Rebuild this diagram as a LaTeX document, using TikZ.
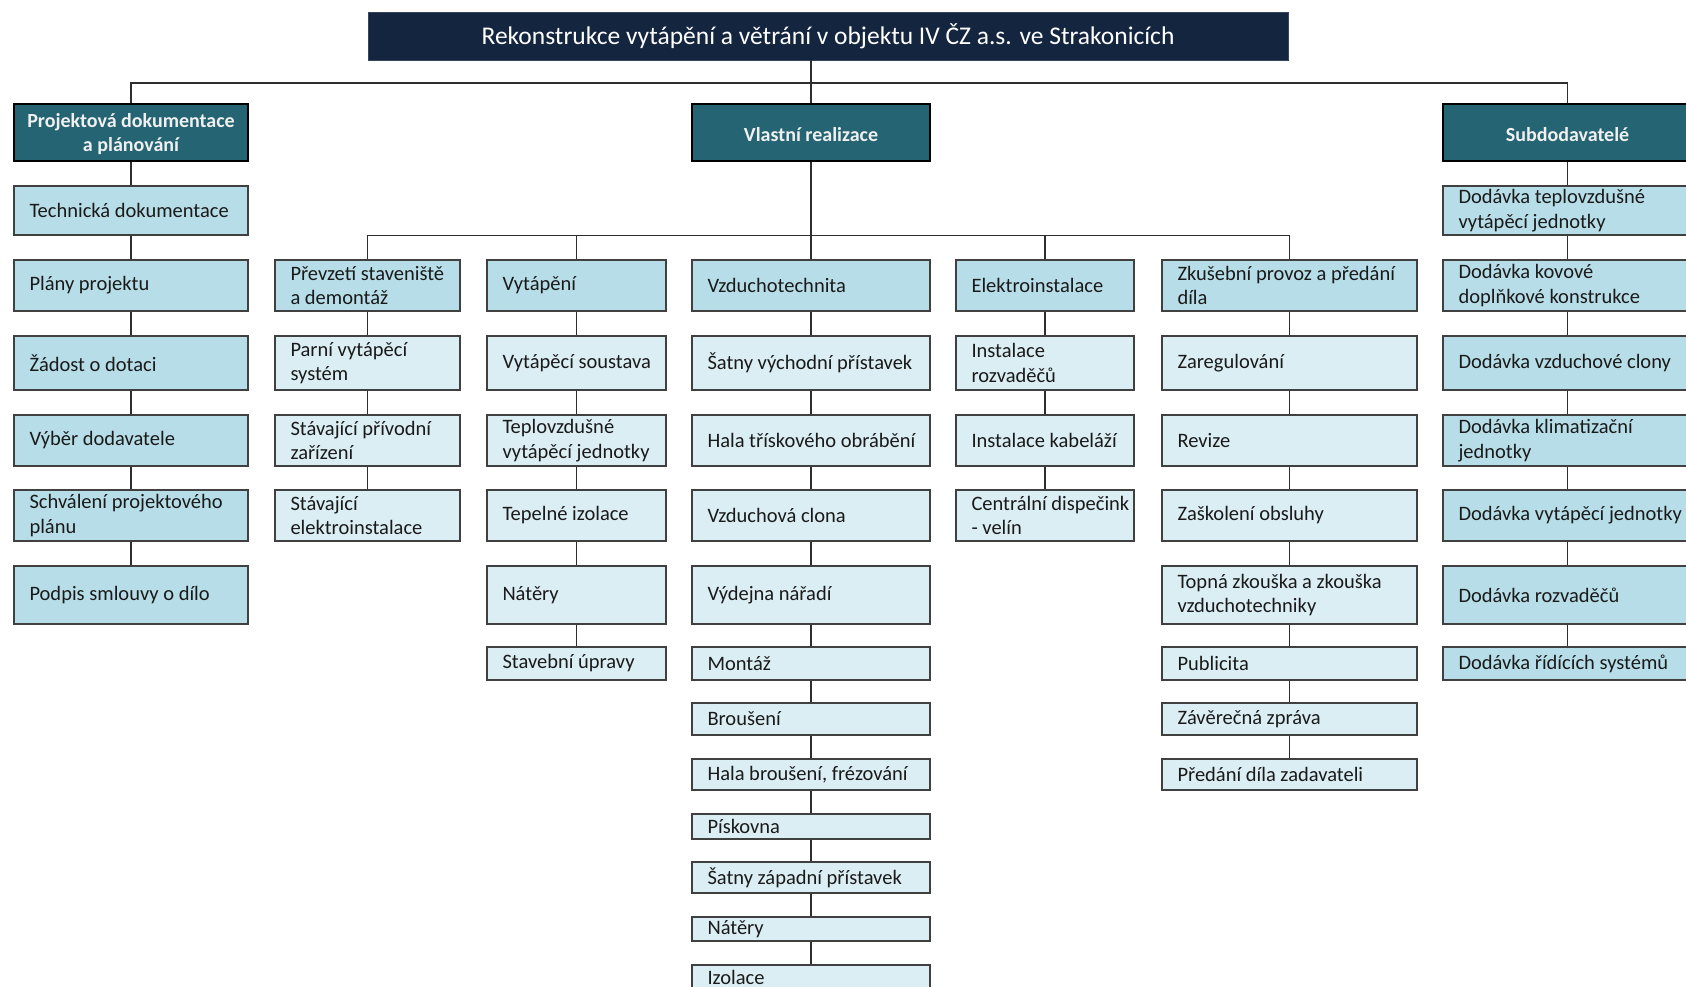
\documentclass[tikz,border=0pt]{standalone}
\usepackage{fontspec}
\setmainfont{Carlito}
\definecolor{navy}{HTML}{14253F}
\definecolor{tealbox}{HTML}{256472}
\definecolor{midblue}{HTML}{B7DEE8}
\definecolor{lightblue}{HTML}{DBEEF3}
\definecolor{edgegray}{HTML}{404040}
\definecolor{ink}{HTML}{1A1A1A}
\tikzset{
  bx/.style={draw=edgegray, line width=1.4pt, inner sep=0pt},
  mid/.style={bx, fill=midblue},
  lgt/.style={bx, fill=lightblue},
  lvl/.style={draw=black, line width=2.8pt, fill=tealbox, inner sep=0pt},
  lvltxt/.style={inner sep=0pt, align=center, text=white!94!black,
    font=\fontsize{20}{24}\selectfont\bfseries},
  ttl/.style={fill=navy, draw=navy!85!white, line width=0.8pt, text=white,
    font=\fontsize{25.5}{30}\selectfont, inner sep=0pt},
  txt/.style={anchor=west, inner sep=0pt, align=left, text=ink,
    font=\fontsize{20.5}{24.5}\selectfont},
  con/.style={draw=black!82, line width=1.5pt},
}
% #1 name, #2 style, #3 left, #4 top, #5 right, #6 bottom, #7 text
\newcommand\mybox[7]{%
  \node[#2, minimum width=#5-#3, minimum height=#6-#4] (#1) at ({(#3+#5)/2},{-(#4+#6)/2}) {};
  \node[txt] (#1-t) at ([xshift=16pt]#1.west) {#7};
}
% #1 name, #2 left, #3 right, #4 text
\newcommand\lvlbox[4]{%
  \node[lvl, minimum width=#3-#2, minimum height=57] (#1) at ({(#2+#3)/2},-132.5) {};
  \node[lvltxt] (#1-t) at ([yshift=-2pt]#1.center) {#4};
}
\begin{document}
\begin{tikzpicture}[x=1pt,y=1pt]
\useasboundingbox (0,0) rectangle (1686,-987);
\clip (0,0) rectangle (1686,-987);
\fill[white] (0,0) rectangle (1686,-987);

% title
\node[ttl, minimum width=920, minimum height=48] (title) at (828,-36)
  {Rekonstrukce vytápění a větrání v objektu IV ČZ a.s. ve Strakonicích};

% level 1
\lvlbox{p1}{14}{248}{Projektová dokumentace\\a plánování}
\lvlbox{p2}{692}{930}{Vlastní realizace}
\lvlbox{p3}{1443}{1692}{Subdodavatelé}

\coordinate (bus) at (811,-83);
\coordinate (bus2) at (811,-235.5);

% column 1
\mybox{c1}{mid}{14}{186}{248}{235}{Technická dokumentace}
\mybox{c2}{mid}{14}{260}{248}{311}{Plány projektu}
\mybox{c3}{mid}{14}{336}{248}{390}{Žádost o dotaci}
\mybox{c4}{mid}{14}{415}{248}{466}{Výběr dodavatele}
\mybox{c5}{mid}{14}{490}{248}{541}{Schválení projektového\\plánu}
\mybox{c6}{mid}{14}{566}{248}{624}{Podpis smlouvy o dílo}

% column A
\mybox{a1}{mid}{275}{260}{460}{311}{Převzetí staveniště\\a demontáž}
\mybox{a2}{lgt}{275}{336}{460}{390}{Parní vytápěcí\\systém}
\mybox{a3}{lgt}{275}{415}{460}{466}{Stávající přívodní\\zařízení}
\mybox{a4}{lgt}{275}{490}{460}{541}{Stávající\\elektroinstalace}

% column B
\mybox{b1}{mid}{487}{260}{666}{311}{Vytápění}
\mybox{b2}{lgt}{487}{336}{666}{390}{Vytápěcí soustava}
\mybox{b3}{lgt}{487}{415}{666}{466}{Teplovzdušné\\vytápěcí jednotky}
\mybox{b4}{lgt}{487}{490}{666}{541}{Tepelné izolace}
\mybox{b5}{lgt}{487}{566}{666}{624}{Nátěry}
\mybox{b6}{lgt}{487}{647}{666}{680}{Stavební úpravy}

% column V
\mybox{v1}{mid}{692}{260}{930}{311}{Vzduchotechnita}
\mybox{v2}{lgt}{692}{336}{930}{390}{Šatny východní přístavek}
\mybox{v3}{lgt}{692}{415}{930}{466}{Hala třískového obrábění}
\mybox{v4}{lgt}{692}{490}{930}{541}{Vzduchová clona}
\mybox{v5}{lgt}{692}{566}{930}{624}{Výdejna nářadí}
\mybox{v6}{lgt}{692}{647}{930}{680}{Montáž}
\mybox{v7}{lgt}{692}{703}{930}{735}{Broušení}
\mybox{v8}{lgt}{692}{759}{930}{790}{Hala broušení, frézování}
\mybox{v9}{lgt}{692}{814}{930}{839}{Pískovna}
\mybox{v10}{lgt}{692}{862}{930}{893}{Šatny západní přístavek}
\mybox{v11}{lgt}{692}{917}{930}{941}{Nátěry}
\mybox{v12}{lgt}{692}{965}{930}{989}{Izolace}

% column E
\mybox{e1}{mid}{956}{260}{1134}{311}{Elektroinstalace}
\mybox{e2}{lgt}{956}{336}{1134}{390}{Instalace\\rozvaděčů}
\mybox{e3}{lgt}{956}{415}{1134}{466}{Instalace kabeláží}
\mybox{e4}{lgt}{956}{490}{1134}{541}{Centrální dispečink\\- velín}

% column Z
\mybox{z1}{mid}{1162}{260}{1417}{311}{Zkušební provoz a předání\\díla}
\mybox{z2}{lgt}{1162}{336}{1417}{390}{Zaregulování}
\mybox{z3}{lgt}{1162}{415}{1417}{466}{Revize}
\mybox{z4}{lgt}{1162}{490}{1417}{541}{Zaškolení obsluhy}
\mybox{z5}{lgt}{1162}{566}{1417}{624}{Topná zkouška a zkouška\\vzduchotechniky}
\mybox{z6}{lgt}{1162}{647}{1417}{680}{Publicita}
\mybox{z7}{lgt}{1162}{703}{1417}{735}{Závěrečná zpráva}
\mybox{z8}{lgt}{1162}{759}{1417}{790}{Předání díla zadavateli}

% column S
\mybox{s1}{mid}{1443}{186}{1692}{235}{Dodávka teplovzdušné\\vytápěcí jednotky}
\mybox{s2}{mid}{1443}{260}{1692}{311}{Dodávka kovové\\doplňkové konstrukce}
\mybox{s3}{mid}{1443}{336}{1692}{390}{Dodávka vzduchové clony}
\mybox{s4}{mid}{1443}{415}{1692}{466}{Dodávka klimatizační\\jednotky}
\mybox{s5}{mid}{1443}{490}{1692}{541}{Dodávka vytápěcí jednotky}
\mybox{s6}{mid}{1443}{566}{1692}{624}{Dodávka rozvaděčů}
\mybox{s7}{mid}{1443}{647}{1692}{680}{Dodávka řídících systémů}

% connectors: top level
\draw[con] (title.south -| p2.north) -- (p2.north);
\draw[con] (p1.north) -- (p1.north |- bus) -- (p3.north |- bus) -- (p3.north);

% connectors: second level bus
\draw[con] (p2.south) -- (v1.north);
\draw[con] (a1.north) -- (a1.north |- bus2) -- (z1.north |- bus2) -- (z1.north);
\foreach \n in {b1,e1} \draw[con] (\n.north) -- (\n.north |- bus2);

% chains
\foreach \u/\l in {p1/c1,c1/c2,c2/c3,c3/c4,c4/c5,c5/c6,
  a1/a2,a2/a3,a3/a4,
  b1/b2,b2/b3,b3/b4,b4/b5,b5/b6,
  v1/v2,v2/v3,v3/v4,v4/v5,v5/v6,v6/v7,v7/v8,v8/v9,v9/v10,v10/v11,v11/v12,
  e1/e2,e2/e3,e3/e4,
  z1/z2,z2/z3,z3/z4,z4/z5,z5/z6,z6/z7,z7/z8,
  p3/s1,s1/s2,s2/s3,s3/s4,s4/s5,s5/s6,s6/s7}
  \draw[con] (\u.south) -- (\l.north);
\end{tikzpicture}
\end{document}
